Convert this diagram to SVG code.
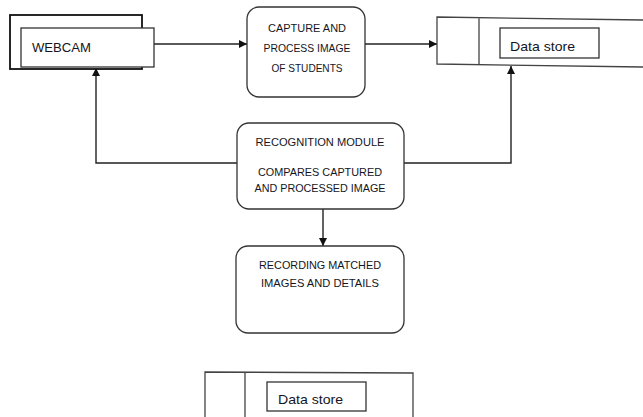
<svg xmlns="http://www.w3.org/2000/svg" width="643" height="417" viewBox="0 0 643 417">
<style>
  .ln{fill:none;stroke:#222;stroke-width:1.4}
  .box{fill:#fff;stroke:#333;stroke-width:1.3}
  .t{font-family:"Liberation Sans",Arial,sans-serif;font-size:11px;fill:#151522;text-anchor:middle}
  .t2{font-family:"Liberation Sans",Arial,sans-serif;font-size:13.5px;fill:#151522}
</style>
<defs>
  <marker id="ah" viewBox="0 0 10 10" refX="10" refY="5" markerWidth="8" markerHeight="8" markerUnits="userSpaceOnUse" orient="auto">
    <path d="M0,0 L10,5 L0,10 z" fill="#111"/>
  </marker>
</defs>
<g id="connectors">
  <line class="ln" x1="154" y1="44" x2="247" y2="44" marker-end="url(#ah)"/>
  <line class="ln" x1="365" y1="44" x2="437" y2="44" marker-end="url(#ah)"/>
  <polyline class="ln" points="237,163 96,163 96,68" marker-end="url(#ah)"/>
  <polyline class="ln" points="404,163 511,163 511,66" marker-end="url(#ah)"/>
  <line class="ln" x1="323" y1="209" x2="323" y2="246" marker-end="url(#ah)"/>
</g>
<g id="webcam">
  <rect class="box" x="10" y="15" width="132" height="54" style="stroke:#111;stroke-width:1.8"/>
  <rect class="box" x="21" y="28" width="133" height="39"/>
  <text class="t2" x="32" y="52" textLength="59" lengthAdjust="spacingAndGlyphs">WEBCAM</text>
</g>
<g id="capture">
  <rect class="box" x="247" y="7" width="118" height="90" rx="12"/>
  <text class="t" x="307" y="32" textLength="78" lengthAdjust="spacingAndGlyphs">CAPTURE AND</text>
  <text class="t" x="307" y="52" textLength="87" lengthAdjust="spacingAndGlyphs">PROCESS IMAGE</text>
  <text class="t" x="307" y="72" textLength="71" lengthAdjust="spacingAndGlyphs">OF STUDENTS</text>
</g>
<g id="datastore1">
  <path class="ln" d="M643,20 L437,17 L437,64 L643,67 M479,17.6 L479,64.6" style="stroke:#444;stroke-width:1.3"/>
  <rect class="box" x="500" y="28" width="99" height="30"/>
  <text class="t2" x="510" y="51" textLength="65" lengthAdjust="spacingAndGlyphs">Data store</text>
</g>
<g id="recognition">
  <rect class="box" x="237" y="123" width="167" height="86" rx="12"/>
  <text class="t" x="320" y="146" textLength="129" lengthAdjust="spacingAndGlyphs">RECOGNITION MODULE</text>
  <text class="t" x="320" y="176" textLength="124" lengthAdjust="spacingAndGlyphs">COMPARES CAPTURED</text>
  <text class="t" x="320" y="192" textLength="131" lengthAdjust="spacingAndGlyphs">AND PROCESSED IMAGE</text>
</g>
<g id="recording">
  <rect class="box" x="236" y="246" width="168" height="87" rx="12"/>
  <text class="t" x="320" y="269" textLength="122" lengthAdjust="spacingAndGlyphs">RECORDING MATCHED</text>
  <text class="t" x="320" y="287" textLength="118" lengthAdjust="spacingAndGlyphs">IMAGES AND DETAILS</text>
</g>
<g id="datastore2">
  <path class="ln" d="M205,417 L205,372 L413,373 L413,417 M245,372.2 L245,417" style="stroke:#444;stroke-width:1.3"/>
  <rect class="box" x="267" y="382" width="99" height="29"/>
  <text class="t2" x="278" y="404" textLength="65" lengthAdjust="spacingAndGlyphs">Data store</text>
</g>
</svg>
